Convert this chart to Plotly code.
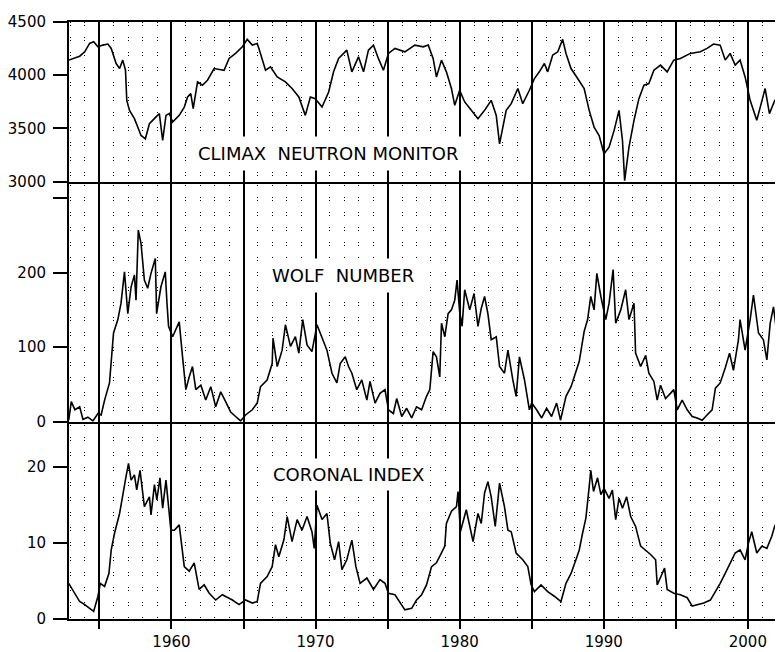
import plotly.graph_objects as go
from plotly.subplots import make_subplots

# ---------------- data ----------------
climax_years = [1952.87, 1953.63, 1953.98, 1954.32, 1954.6, 1954.9, 1955.24, 1955.59, 1955.82, 1956.16,
                1956.4, 1956.62, 1956.81, 1956.9, 1957.09, 1957.43, 1957.66, 1957.89, 1958.19, 1958.47,
                1958.81, 1959.16, 1959.39, 1959.62, 1959.85, 1960.08, 1960.54, 1960.89, 1961.12, 1961.34,
                1961.51, 1961.81, 1962.15, 1962.5, 1962.96, 1963.65, 1964.0, 1964.45, 1964.92, 1965.26,
                1965.61, 1965.95, 1966.07, 1966.3, 1966.53, 1966.87, 1967.34, 1967.91, 1968.37, 1968.84,
                1969.29, 1969.64, 1969.98, 1970.45, 1970.91, 1971.25, 1971.6, 1972.17, 1972.52, 1972.98,
                1973.33, 1973.67, 1974.02, 1974.36, 1974.71, 1975.06, 1975.51, 1976.2, 1976.89, 1977.47,
                1977.82, 1978.16, 1978.39, 1978.74, 1979.08, 1979.43, 1979.66, 1980.0, 1980.35, 1980.81,
                1981.27, 1981.73, 1982.19, 1982.54, 1982.77, 1983.23, 1983.58, 1984.04, 1984.38, 1984.84,
                1985.19, 1985.53, 1985.88, 1986.11, 1986.46, 1986.81, 1987.15, 1987.38, 1987.73, 1988.19,
                1988.64, 1988.99, 1989.33, 1989.68, 1990.02, 1990.37, 1990.72, 1991.06, 1991.3, 1991.45,
                1991.75, 1992.1, 1992.44, 1992.79, 1993.13, 1993.48, 1993.94, 1994.4, 1994.86, 1995.32,
                1996.01, 1996.7, 1997.17, 1997.62, 1998.08, 1998.43, 1998.77, 1999.12, 1999.46, 1999.81,
                2000.16, 2000.62, 2000.85, 2001.2, 2001.5, 2001.87, 2002.2, 2002.5]
climax_counts = [4142, 4179, 4220, 4299, 4314, 4267, 4283, 4293, 4252, 4110,
                 4063, 4142, 4047, 3764, 3670, 3592, 3513, 3434, 3403, 3545,
                 3592, 3639, 3387, 3623, 3642, 3560, 3623, 3701, 3796, 3827,
                 3686, 3937, 3906, 3953, 4063, 4047, 4158, 4205, 4267, 4337,
                 4283, 4299, 4252, 4150, 4047, 4079, 3984, 3937, 3875, 3796,
                 3623, 3796, 3780, 3701, 3843, 4032, 4158, 4236, 4032, 4173,
                 4032, 4236, 4283, 4158, 4047, 4205, 4252, 4220, 4283, 4267,
                 4283, 4158, 3984, 4142, 4032, 3875, 3717, 3859, 3749, 3670,
                 3592, 3670, 3764, 3623, 3356, 3670, 3733, 3875, 3733, 3859,
                 3969, 4032, 4110, 4032, 4189, 4220, 4337, 4205, 4063, 3969,
                 3875, 3670, 3513, 3434, 3262, 3324, 3482, 3670, 3387, 3010,
                 3324, 3576, 3780, 3906, 3922, 4047, 4095, 4032, 4142, 4158,
                 4205, 4220, 4252, 4293, 4283, 4142, 4205, 4095, 4142, 3984,
                 3764, 3576, 3701, 3875, 3639, 3764, 3780, 3764]

wolf_years = [1952.87, 1953.05, 1953.3, 1953.63, 1953.86, 1954.2, 1954.55, 1954.9, 1955.12, 1955.36,
              1955.7, 1955.82, 1955.98, 1956.28, 1956.5, 1956.74, 1956.97, 1957.2, 1957.43, 1957.54,
              1957.7, 1957.89, 1958.12, 1958.35, 1958.58, 1958.88, 1958.97, 1959.27, 1959.57, 1959.69,
              1959.8, 1960.08, 1960.31, 1960.54, 1960.77, 1961.0, 1961.23, 1961.46, 1961.69, 1962.04,
              1962.38, 1962.73, 1963.07, 1963.42, 1963.76, 1964.11, 1964.45, 1964.8, 1965.14, 1965.61,
              1965.95, 1966.18, 1966.64, 1966.99, 1967.05, 1967.34, 1967.68, 1967.91, 1968.26, 1968.6,
              1968.84, 1969.11, 1969.41, 1969.75, 1970.1, 1970.45, 1970.79, 1971.14, 1971.48, 1971.71,
              1972.06, 1972.29, 1972.52, 1972.86, 1973.21, 1973.56, 1973.78, 1974.13, 1974.47, 1974.82,
              1975.06, 1975.4, 1975.63, 1975.98, 1976.32, 1976.67, 1977.01, 1977.36, 1977.7, 1977.93,
              1978.16, 1978.39, 1978.62, 1978.74, 1978.97, 1979.2, 1979.43, 1979.66, 1979.82, 1980.0,
              1980.17, 1980.35, 1980.7, 1981.0, 1981.27, 1981.5, 1981.73, 1981.96, 1982.19, 1982.54,
              1982.77, 1983.11, 1983.35, 1983.69, 1983.92, 1984.15, 1984.5, 1984.84, 1985.0, 1985.34,
              1985.69, 1986.03, 1986.38, 1986.73, 1987.0, 1987.38, 1987.73, 1987.95, 1988.3, 1988.64,
              1988.88, 1989.1, 1989.33, 1989.52, 1989.8, 1990.14, 1990.37, 1990.65, 1990.83, 1991.18,
              1991.52, 1991.75, 1992.1, 1992.21, 1992.56, 1992.91, 1993.13, 1993.48, 1993.71, 1993.94,
              1994.29, 1994.63, 1994.86, 1995.1, 1995.44, 1995.79, 1996.14, 1996.48, 1996.83, 1997.17,
              1997.52, 1997.75, 1998.08, 1998.43, 1998.73, 1999.0, 1999.35, 1999.46, 1999.81, 2000.16,
              2000.39, 2000.74, 2001.08, 2001.32, 2001.55, 2001.78, 2002.01, 2002.45]
wolf_number = [2, 27, 16, 20, 3, 6, 1, 11, 9, 29,
               52, 87, 119, 137, 159, 201, 145, 181, 197, 163,
               257, 239, 190, 179, 199, 219, 145, 181, 201, 159,
               128, 114, 123, 134, 87, 43, 60, 74, 43, 49,
               29, 47, 20, 40, 27, 13, 7, 1, 9, 16,
               25, 47, 56, 78, 112, 74, 96, 130, 101, 114,
               92, 137, 103, 94, 130, 114, 96, 65, 52, 78,
               87, 74, 65, 43, 56, 29, 54, 25, 38, 43,
               16, 11, 31, 7, 18, 5, 20, 16, 34, 43,
               94, 87, 60, 132, 114, 145, 150, 163, 190, 148,
               128, 177, 150, 172, 128, 152, 168, 145, 110, 114,
               74, 65, 96, 56, 34, 87, 56, 16, 25, 16,
               5, 18, 7, 25, 2, 34, 47, 60, 81, 121,
               137, 168, 150, 199, 168, 137, 159, 204, 132, 150,
               177, 137, 159, 92, 74, 89, 65, 54, 29, 49,
               31, 38, 43, 16, 29, 16, 7, 5, 2, 9,
               16, 45, 52, 72, 92, 69, 110, 137, 96, 137,
               170, 119, 110, 83, 132, 154, 119, 110]

coronal_years = [1952.87, 1953.3, 1953.63, 1953.98, 1954.32, 1954.6, 1954.9, 1955.06, 1955.36, 1955.66,
                 1955.82, 1956.05, 1956.4, 1956.62, 1956.85, 1957.02, 1957.2, 1957.43, 1957.59, 1957.82,
                 1958.12, 1958.47, 1958.58, 1958.82, 1958.99, 1959.2, 1959.39, 1959.62, 1959.8, 1959.96,
                 1960.2, 1960.54, 1960.89, 1961.23, 1961.58, 1961.92, 1962.27, 1962.62, 1963.07, 1963.53,
                 1964.23, 1964.69, 1965.14, 1965.61, 1965.95, 1966.18, 1966.64, 1966.99, 1967.22, 1967.45,
                 1967.8, 1968.03, 1968.37, 1968.72, 1969.06, 1969.41, 1969.75, 1969.91, 1970.1, 1970.45,
                 1970.79, 1971.02, 1971.32, 1971.6, 1971.83, 1972.17, 1972.52, 1972.8, 1973.09, 1973.56,
                 1974.02, 1974.47, 1974.82, 1975.06, 1975.51, 1975.86, 1976.2, 1976.67, 1977.01, 1977.36,
                 1977.7, 1978.05, 1978.39, 1978.74, 1978.97, 1979.08, 1979.43, 1979.78, 1979.89, 1980.05,
                 1980.46, 1980.93, 1981.27, 1981.5, 1981.73, 1981.96, 1982.19, 1982.47, 1982.77, 1983.11,
                 1983.35, 1983.58, 1983.92, 1984.38, 1984.73, 1984.96, 1985.19, 1985.65, 1986.11, 1986.57,
                 1987.03, 1987.38, 1987.73, 1988.07, 1988.3, 1988.53, 1988.76, 1988.99, 1989.1, 1989.29,
                 1989.57, 1989.8, 1990.02, 1990.37, 1990.6, 1990.83, 1991.06, 1991.3, 1991.59, 1991.87,
                 1992.21, 1992.56, 1992.91, 1993.25, 1993.6, 1993.71, 1994.06, 1994.22, 1994.4, 1994.86,
                 1995.32, 1995.79, 1996.14, 1996.48, 1996.94, 1997.4, 1997.75, 1998.08, 1998.43, 1998.77,
                 1999.12, 1999.46, 1999.81, 2000.04, 2000.27, 2000.62, 2000.97, 2001.32, 2001.66, 2001.89,
                 2002.12, 2002.45]
coronal_index = [4.7, 3.4, 2.3, 1.9, 1.4, 1.0, 3.0, 4.7, 4.3, 6.0,
                 9.1, 11.3, 13.9, 16.6, 18.8, 20.5, 18.3, 19.0, 17.0, 19.6,
                 14.8, 16.1, 13.7, 17.7, 15.7, 18.6, 14.6, 18.3, 14.4, 11.7,
                 11.7, 12.4, 6.9, 6.3, 7.4, 3.9, 4.5, 3.4, 2.5, 3.2,
                 2.5, 1.9, 2.5, 2.1, 2.3, 4.7, 5.6, 6.9, 9.8, 8.2,
                 10.4, 13.5, 10.2, 13.1, 11.7, 13.5, 11.5, 9.3, 15.0, 13.1,
                 13.9, 10.0, 7.8, 10.2, 6.5, 7.8, 10.4, 6.9, 4.7, 5.4,
                 3.9, 5.2, 4.7, 3.4, 3.2, 2.1, 1.2, 1.4, 2.5, 3.2,
                 4.5, 6.9, 7.4, 8.7, 9.6, 12.6, 14.2, 14.8, 16.8, 11.5,
                 14.4, 10.2, 13.9, 12.6, 16.6, 18.1, 16.1, 12.2, 17.9, 14.8,
                 11.7, 11.5, 8.7, 7.8, 6.9, 4.5, 3.6, 4.5, 3.6, 3.0,
                 2.3, 4.7, 6.0, 7.8, 9.1, 11.3, 13.3, 17.4, 19.6, 16.8,
                 18.6, 16.4, 17.2, 15.9, 17.0, 13.1, 15.9, 14.6, 16.1, 13.5,
                 12.2, 9.6, 9.1, 8.5, 7.8, 4.5, 6.0, 6.7, 3.9, 3.4,
                 3.2, 2.8, 1.7, 1.9, 2.1, 2.5, 3.6, 4.7, 6.0, 7.4,
                 8.7, 9.1, 7.8, 10.0, 11.5, 8.7, 9.6, 9.3, 10.9, 12.4,
                 11.7, 10.0]

major_years = [1955, 1960, 1965, 1970, 1975, 1980, 1985, 1990, 1995, 2000]
major_labels = ["", "1960", "", "1970", "", "1980", "", "1990", "", "2000"]

climax_ticks = [3000, 3500, 4000, 4500]
climax_ticktext = ["3000", "3500", "4000", "4500"]
wolf_ticks = [0, 100, 200, 300]
wolf_ticktext = ["0", "100", "200", ""]
coronal_ticks = [0, 10, 20]
coronal_ticktext = ["0", "10", "20"]

panel_titles = ["CLIMAX\u00a0\u00a0NEUTRON MONITOR", "WOLF\u00a0\u00a0NUMBER", "CORONAL INDEX"]

# ---------------- figure ----------------
FONT = "DejaVu Sans"
fig = make_subplots(rows=3, cols=1, shared_xaxes=True, vertical_spacing=0,
                    row_heights=[0.2675, 0.402, 0.3305])

line = dict(color="black", width=1.6)
fig.add_trace(go.Scatter(x=climax_years, y=climax_counts, mode="lines", line=line), row=1, col=1)
fig.add_trace(go.Scatter(x=wolf_years, y=wolf_number, mode="lines", line=line), row=2, col=1)
fig.add_trace(go.Scatter(x=coronal_years, y=coronal_index, mode="lines", line=line), row=3, col=1)

xcommon = dict(range=[1952.89, 2002.44], tickmode="array", tickvals=major_years, ticktext=major_labels,
               showgrid=True, gridcolor="black", gridwidth=1.6, zeroline=False,
               showline=True, linecolor="black", linewidth=2,
               minor=dict(tickmode="linear", tick0=1955, dtick=1, showgrid=True, gridcolor="black",
                          gridwidth=1, griddash="1px,2px,1px,11px", ticks=""),
               tickfont=dict(family=FONT, size=15, color="black"))

fig.update_xaxes(**xcommon)
fig.update_xaxes(row=1, col=1, mirror=True, showticklabels=False, ticks="")
fig.update_xaxes(row=2, col=1, showticklabels=False, ticks="")
fig.update_xaxes(row=3, col=1, showticklabels=True, ticks="outside", ticklen=8, tickwidth=2,
                 tickcolor="black")

ycommon = dict(showgrid=False, zeroline=False, showline=True, linecolor="black", linewidth=2,
               ticks="outside", ticklen=14, tickwidth=1.5, tickcolor="black",
               tickfont=dict(family=FONT, size=15, color="black"), tickmode="array",
               ticklabelstandoff=4)
fig.update_yaxes(**ycommon)
fig.update_yaxes(row=1, col=1, range=[3000, 4500], tickvals=climax_ticks, ticktext=climax_ticktext)
fig.update_yaxes(row=2, col=1, range=[0, 322], tickvals=wolf_ticks, ticktext=wolf_ticktext)
fig.update_yaxes(row=3, col=1, range=[0, 26], tickvals=coronal_ticks, ticktext=coronal_ticktext)

ann_font = dict(family=FONT, size=18, color="black")
fig.add_annotation(x=1970.93, y=3265, xref="x", yref="y", text=panel_titles[0], showarrow=False,
                   font=ann_font, bgcolor="white", borderpad=6)
fig.add_annotation(x=1971.93, y=195.6, xref="x2", yref="y2", text=panel_titles[1], showarrow=False,
                   font=ann_font, bgcolor="white", borderpad=6)
fig.add_annotation(x=1972.28, y=19.05, xref="x3", yref="y3", text=panel_titles[2], showarrow=False,
                   font=ann_font, bgcolor="white", borderpad=5)

# the page body adds an 8 px offset, so the figure is sized to fill the window from there
fig.update_layout(width=775, height=644, margin=dict(l=58, r=0, t=14, b=33),
                  paper_bgcolor="white", plot_bgcolor="white", showlegend=False)

fig.write_html("out.html")
